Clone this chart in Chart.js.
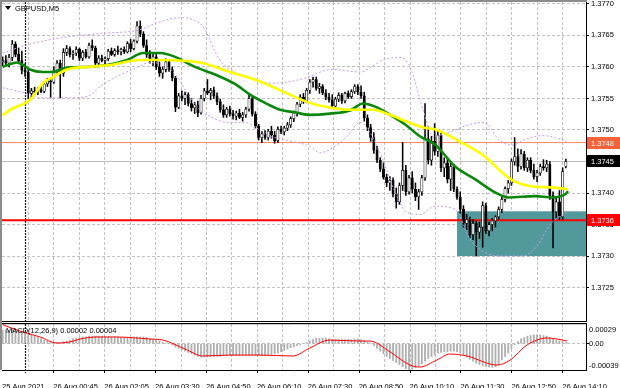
<!DOCTYPE html>
<html>
<head>
<meta charset="utf-8">
<script src="https://cdn.jsdelivr.net/npm/chart.js@4.4.1/dist/chart.umd.min.js"></script>
<style>
  html, body { margin: 0; padding: 0; background: #fff; }
  #wrap { position: relative; width: 620px; height: 388px; overflow: hidden; }
  #main { position: absolute; left: 0; top: 0; }
  #macd { position: absolute; left: 0; top: 322px; }
</style>
</head>
<body>
<div id="wrap">
  <canvas id="main" width="620" height="322"></canvas>
  <canvas id="macd" width="620" height="66"></canvas>
</div>
<script>
/* GBPUSD M5 — candles, MAs, bands, levels + MACD pane */

const symbolLabel = "GBPUSD,M5";
const macdLabel = "MACD(12,26,9) 0.00002 0.00004";

// time grid in bar units; labels sit on every second grid line
const gridBars = [7.88, 15.83, 23.78, 31.74, 39.69, 47.64, 55.59, 63.55, 71.5, 79.45, 87.4, 95.36, 103.31,
  111.26, 119.21, 127.17, 135.12, 143.07, 151.02, 158.98, 166.93, 174.88];
const timeLabelBars = [-0.2, 15.83, 31.74, 47.64, 63.55, 79.45, 95.36, 111.26, 127.17, 143.07, 158.98, 174.88];
const timeLabels = ["25 Aug 2021", "26 Aug 00:45", "26 Aug 02:05", "26 Aug 03:30", "26 Aug 04:50", "26 Aug 06:10",
  "26 Aug 07:30", "26 Aug 08:50", "26 Aug 10:10", "26 Aug 11:30", "26 Aug 12:50", "26 Aug 14:10"];
const separatorBar = 7;

const priceTicks = [1.3725, 1.3730, 1.3735, 1.3740, 1.3745, 1.3750, 1.3755, 1.3760, 1.3765, 1.3770];

const opens = [1.37608,1.37610,1.37606,1.37615,1.37636,1.37620,1.37610,1.37595,1.37592,1.37558,
  1.37562,1.37560,1.37564,1.37561,1.37573,1.37578,1.37576,1.37595,1.37606,1.37590,
  1.37623,1.37629,1.37620,1.37622,1.37628,1.37614,1.37623,1.37616,1.37634,1.37630,
  1.37606,1.37614,1.37610,1.37613,1.37625,1.37620,1.37626,1.37624,1.37628,1.37624,
  1.37637,1.37629,1.37641,1.37665,1.37652,1.37634,1.37620,1.37610,1.37616,1.37600,
  1.37590,1.37596,1.37608,1.37596,1.37582,1.37536,1.37554,1.37550,1.37556,1.37542,
  1.37535,1.37540,1.37527,1.37550,1.37562,1.37559,1.37563,1.37554,1.37545,1.37532,
  1.37524,1.37533,1.37526,1.37522,1.37527,1.37520,1.37524,1.37533,1.37550,1.37525,
  1.37506,1.37488,1.37494,1.37488,1.37498,1.37492,1.37483,1.37501,1.37497,1.37503,
  1.37508,1.37518,1.37527,1.37541,1.37552,1.37546,1.37563,1.37576,1.37580,1.37566,
  1.37569,1.37559,1.37552,1.37548,1.37538,1.37549,1.37555,1.37546,1.37558,1.37553,
  1.37561,1.37569,1.37560,1.37554,1.37519,1.37504,1.37488,1.37468,1.37452,1.37438,
  1.37425,1.37416,1.37420,1.37398,1.37386,1.37412,1.37436,1.37402,1.37424,1.37406,
  1.37394,1.37402,1.37424,1.37486,1.37452,1.37482,1.37466,1.37492,1.37440,1.37448,
  1.37422,1.37442,1.37406,1.37393,1.37374,1.37352,1.37358,1.37334,1.37352,1.37338,
  1.37346,1.37380,1.37340,1.37350,1.37356,1.37362,1.37374,1.37390,1.37407,1.37416,
  1.37450,1.37458,1.37442,1.37462,1.37440,1.37452,1.37436,1.37426,1.37432,1.37442,
  1.37440,1.37446,1.37396,1.37370,1.37386,1.37362,1.37442];
const highs = [1.37616,1.37618,1.37620,1.37642,1.37640,1.37630,1.37625,1.37605,1.37596,1.37566,
  1.37568,1.37567,1.37570,1.37576,1.37582,1.37583,1.37600,1.37610,1.37611,1.37629,
  1.37634,1.37632,1.37626,1.37632,1.37630,1.37626,1.37628,1.37638,1.37643,1.37633,
  1.37618,1.37619,1.37616,1.37628,1.37630,1.37629,1.37633,1.37630,1.37632,1.37640,
  1.37644,1.37643,1.37672,1.37673,1.37656,1.37643,1.37626,1.37620,1.37620,1.37608,
  1.37600,1.37613,1.37610,1.37600,1.37585,1.37558,1.37562,1.37560,1.37559,1.37550,
  1.37544,1.37546,1.37555,1.37566,1.37580,1.37566,1.37568,1.37559,1.37549,1.37540,
  1.37536,1.37538,1.37531,1.37530,1.37533,1.37528,1.37536,1.37555,1.37553,1.37529,
  1.37509,1.37498,1.37499,1.37501,1.37506,1.37498,1.37505,1.37506,1.37506,1.37512,
  1.37521,1.37530,1.37544,1.37556,1.37558,1.37566,1.37580,1.37584,1.37584,1.37574,
  1.37572,1.37564,1.37558,1.37556,1.37552,1.37559,1.37558,1.37560,1.37562,1.37564,
  1.37572,1.37572,1.37570,1.37560,1.37524,1.37509,1.37496,1.37474,1.37456,1.37448,
  1.37430,1.37426,1.37424,1.37408,1.37416,1.37480,1.37444,1.37428,1.37434,1.37416,
  1.37406,1.37428,1.37542,1.37505,1.37490,1.37510,1.37500,1.37496,1.37456,1.37456,
  1.37450,1.37446,1.37410,1.37402,1.37380,1.37366,1.37362,1.37358,1.37356,1.37354,
  1.37386,1.37384,1.37354,1.37360,1.37364,1.37378,1.37394,1.37410,1.37420,1.37454,
  1.37488,1.37470,1.37469,1.37466,1.37456,1.37456,1.37446,1.37436,1.37446,1.37453,
  1.37452,1.37450,1.37402,1.37394,1.37404,1.37440,1.37454];
const lows = [1.37602,1.37603,1.37600,1.37610,1.37616,1.37605,1.37589,1.37585,1.37550,1.37549,
  1.37556,1.37556,1.37559,1.37559,1.37569,1.37551,1.37574,1.37590,1.37551,1.37585,
  1.37618,1.37616,1.37612,1.37618,1.37610,1.37610,1.37614,1.37614,1.37626,1.37602,
  1.37603,1.37608,1.37605,1.37610,1.37618,1.37617,1.37620,1.37619,1.37621,1.37622,
  1.37624,1.37627,1.37638,1.37648,1.37631,1.37615,1.37606,1.37602,1.37596,1.37585,
  1.37582,1.37592,1.37593,1.37578,1.37529,1.37534,1.37546,1.37540,1.37538,1.37530,
  1.37526,1.37521,1.37525,1.37546,1.37556,1.37548,1.37550,1.37540,1.37528,1.37520,
  1.37520,1.37522,1.37517,1.37516,1.37518,1.37514,1.37520,1.37530,1.37522,1.37503,
  1.37484,1.37480,1.37485,1.37484,1.37487,1.37479,1.37480,1.37494,1.37492,1.37499,
  1.37504,1.37513,1.37522,1.37537,1.37542,1.37543,1.37558,1.37568,1.37563,1.37558,
  1.37556,1.37548,1.37544,1.37535,1.37534,1.37545,1.37542,1.37543,1.37550,1.37550,
  1.37558,1.37556,1.37550,1.37514,1.37499,1.37482,1.37463,1.37448,1.37434,1.37422,
  1.37410,1.37404,1.37394,1.37376,1.37382,1.37404,1.37396,1.37398,1.37400,1.37388,
  1.37374,1.37396,1.37420,1.37446,1.37444,1.37460,1.37458,1.37434,1.37426,1.37416,
  1.37404,1.37402,1.37390,1.37368,1.37346,1.37342,1.37329,1.37326,1.37300,1.37328,
  1.37314,1.37336,1.37332,1.37340,1.37346,1.37358,1.37369,1.37386,1.37400,1.37412,
  1.37444,1.37434,1.37438,1.37436,1.37434,1.37432,1.37422,1.37418,1.37428,1.37436,
  1.37434,1.37390,1.37313,1.37360,1.37358,1.37358,1.37440];
const closes = [1.37610,1.37606,1.37615,1.37636,1.37620,1.37610,1.37595,1.37592,1.37558,1.37562,
  1.37560,1.37564,1.37561,1.37573,1.37578,1.37576,1.37595,1.37606,1.37590,1.37623,
  1.37629,1.37620,1.37622,1.37628,1.37614,1.37623,1.37616,1.37634,1.37630,1.37606,
  1.37614,1.37610,1.37613,1.37625,1.37620,1.37626,1.37624,1.37628,1.37624,1.37637,
  1.37629,1.37641,1.37665,1.37652,1.37634,1.37620,1.37610,1.37616,1.37600,1.37590,
  1.37596,1.37608,1.37596,1.37582,1.37536,1.37554,1.37550,1.37556,1.37542,1.37535,
  1.37540,1.37527,1.37550,1.37562,1.37559,1.37563,1.37554,1.37545,1.37532,1.37524,
  1.37533,1.37526,1.37522,1.37527,1.37520,1.37524,1.37533,1.37550,1.37525,1.37506,
  1.37488,1.37494,1.37488,1.37498,1.37492,1.37483,1.37501,1.37497,1.37503,1.37508,
  1.37518,1.37527,1.37541,1.37552,1.37546,1.37563,1.37576,1.37580,1.37566,1.37569,
  1.37559,1.37552,1.37548,1.37538,1.37549,1.37555,1.37546,1.37558,1.37553,1.37561,
  1.37569,1.37560,1.37554,1.37519,1.37504,1.37488,1.37468,1.37452,1.37438,1.37425,
  1.37416,1.37420,1.37398,1.37386,1.37412,1.37436,1.37402,1.37424,1.37406,1.37394,
  1.37402,1.37424,1.37486,1.37452,1.37482,1.37466,1.37492,1.37440,1.37448,1.37422,
  1.37442,1.37406,1.37393,1.37374,1.37352,1.37358,1.37334,1.37352,1.37338,1.37346,
  1.37380,1.37340,1.37350,1.37356,1.37362,1.37374,1.37390,1.37407,1.37416,1.37450,
  1.37458,1.37442,1.37462,1.37440,1.37452,1.37436,1.37426,1.37432,1.37442,1.37440,
  1.37446,1.37396,1.37370,1.37386,1.37364,1.37434,1.37450];

// moving averages (yellow slow, green fast), read at sample bars
const slowMaBars = [0,2.3,8.6,12.7,15.8,20.1,26.4,33.6,42.9,49.2,61.7,71,80.4,89.8,96,103.2,109.5,115.7,121.1,126.4,131.4,135.1,144.5,150.7,156,160.1,166.4,171.7,176.7];
const slowMaValues = [1.37523,1.37532,1.37548,1.37575,1.37584,1.37596,1.37600,1.37603,1.37611,1.37611,1.37607,1.37592,1.37577,1.37556,1.37543,1.37535,1.37532,1.37532,1.37524,1.37513,1.37504,1.37501,1.37477,1.37458,1.37433,1.37418,1.37410,1.37409,1.37406];
const fastMaBars = [0,4.5,6.4,8.5,12.6,15.7,20.1,26.4,32.6,38.9,43.9,49.2,53.9,60.1,66.4,72.6,77.3,82,86.7,91.4,96,102.3,108.6,112.6,116.4,121.1,125.7,130.4,135.1,141.4,147.6,153.9,158,166.4,171.7,175.8,176.7];
const fastMaValues = [1.37600,1.37607,1.37603,1.37596,1.37592,1.37592,1.37599,1.37600,1.37603,1.37611,1.37622,1.37622,1.37616,1.37600,1.37588,1.37573,1.37556,1.37543,1.37532,1.37528,1.37524,1.37526,1.37531,1.37542,1.37537,1.37524,1.37509,1.37490,1.37477,1.37442,1.37422,1.37401,1.37393,1.37395,1.37393,1.37398,1.37403];

// bollinger envelope
const upperBandBars = [0,7.6,17.9,30.4,42.9,48.2,55.4,59.5,62.6,67.9,74.2,78.9,84.2,92.9,103.2,111.7,118.9,124.2,127.3,131.4,134.5,139.8,146.1,150.7,155,159.2,163.3,168.6,172.7,176.7];
const upperBandValues = [1.37622,1.37635,1.37646,1.37653,1.37659,1.37670,1.37678,1.37675,1.37664,1.37611,1.37588,1.37580,1.37574,1.37580,1.37596,1.37592,1.37611,1.37615,1.37600,1.37532,1.37490,1.37497,1.37509,1.37512,1.37485,1.37476,1.37485,1.37491,1.37488,1.37480];
const lowerBandBars = [0,5.4,12.6,20.1,26.4,30.4,35.7,40.7,46.1,50.7,54.5,57.6,61.7,65.4,70.4,75.7,78.9,82,87.6,96,99.2,103.2,107.6,111.7,114.8,117.9,123.2,126.4,130.4,135.1,141.4,146.1,150.7,156,162.3,167,171.1,176.7];
const lowerBandValues = [1.37567,1.37561,1.37551,1.37551,1.37553,1.37569,1.37585,1.37596,1.37607,1.37602,1.37585,1.37559,1.37532,1.37520,1.37512,1.37512,1.37505,1.37493,1.37485,1.37474,1.37464,1.37472,1.37490,1.37512,1.37496,1.37464,1.37395,1.37369,1.37366,1.37379,1.37374,1.37327,1.37306,1.37300,1.37300,1.37316,1.37350,1.37371];

// levels and zone
const bidPrice = 1.3745;
const resistanceLevel = 1.3748;
const supportLevel = 1.37357;
const zoneStartBar = 142;
const zoneTop = 1.37371;
const zoneBottom = 1.37300;

// MACD pane
const macdHist = [0.00020,0.00020,0.00020,0.00021,0.00020,0.00019,0.00018,
  0.00017,0.00015,0.00013,0.00011,0.00009,0.00007,0.00005,0.00004,0.00003,
  0.00002,0.00002,0.00001,0.00003,0.00004,
  0.00005,0.00007,0.00008,0.00009,0.00010,0.00010,0.00011,0.00011,0.00011,0.00011,0.00011,0.00010,0.00010,0.00010,0.00010,0.00010,
  0.00009,0.00009,0.00009,0.00009,0.00010,0.00010,0.00010,0.00010,0.00009,0.00007,0.00006,0.00005,
  0.00004,0.00002,0.00001,0,-0.00002,-0.00005,
  -0.00007,-0.00009,-0.00011,-0.00013,-0.00015,-0.00017,-0.00019,-0.00020,
  -0.00020,-0.00020,-0.00019,-0.00019,-0.00019,-0.00019,-0.00018,-0.00018,-0.00018,-0.00018,-0.00018,-0.00018,-0.00017,-0.00017,
  -0.00017,-0.00017,-0.00017,-0.00018,-0.00018,-0.00018,-0.00017,-0.00016,-0.00015,-0.00014,-0.00012,-0.00010,-0.00008,-0.00006,
  -0.00005,-0.00003,-0.00002,0,0.00002,
  0.00004,0.00006,0.00008,0.00008,0.00008,0.00008,
  0.00007,0.00006,0.00006,0.00006,0.00006,0.00006,0.00006,0.00006,0.00007,0.00007,0.00006,0.00005,0.00002,0,-0.00003,
  -0.00007,-0.00011,-0.00015,-0.00019,-0.00022,-0.00025,-0.00028,-0.00031,-0.00034,-0.00037,-0.00039,
  -0.00038,-0.00036,-0.00033,-0.00030,-0.00026,-0.00022,-0.00019,-0.00017,
  -0.00014,-0.00013,-0.00012,-0.00012,-0.00011,-0.00011,-0.00012,-0.00014,
  -0.00017,-0.00020,-0.00023,-0.00026,-0.00029,-0.00031,-0.00033,-0.00034,-0.00035,-0.00035,-0.00034,-0.00031,
  -0.00024,-0.00019,-0.00014,-0.00008,-0.00002,
  0.00003,0.00007,0.00009,0.00011,0.00012,0.00013,0.00013,0.00013,0.00012,0.00011,0.00009,
  0.00007,0.00005,0.00004,0.00003,0.00002];
const signalBars = [0,5.4,11.7,17,21,24.2,29.5,35.7,46,50.1,57,62.6,71,80.4,90.7,96,102.3,111.7,114.8,121.1,127.3,130.4,135.7,139.8,145.1,154.5,158.6,163.9,170.1,173.3,176.4];
const signalValues = [0.00028,0.000186,0.000098,0.000009,0.000024,0.000068,0.000098,0.000098,0.000068,0.000053,-0.00008,-0.000183,-0.000169,-0.000169,-0.000183,-0.000065,0.000053,0.000038,0.000038,-0.000124,-0.000317,-0.000346,-0.000243,-0.000154,-0.000183,-0.000317,-0.000243,-0.00002,0.000083,0.000068,0.00004];
const macdTicks = [-0.00039, 0, 0.00029];

const X_MIN = -0.2, X_MAX = 182.3;
const GRID = "#c0c0c0";
const FONT = '7.5px "Liberation Sans", Arial, sans-serif';

Chart.defaults.font.family = '"Liberation Sans", Arial, sans-serif';
Chart.defaults.font.size = 7.5;
Chart.defaults.color = "#000";
Chart.defaults.animation = false;

const pts = (xs, ys) => xs.map((x, i) => ({ x, y: ys[i] }));

function noPad(scale) {
  scale.paddingTop = 0; scale.paddingBottom = 0;
  scale.paddingLeft = 0; scale.paddingRight = 0;
}

// vertical time grid + dotted day separator, placed with the x scale
function drawTimeGrid(chart, extra) {
  const { ctx, chartArea: a, scales: { x } } = chart;
  ctx.save();
  ctx.strokeStyle = GRID;
  ctx.lineWidth = 1;
  ctx.setLineDash([3, 2]);
  gridBars.forEach((b) => {
    const gx = Math.round(x.getPixelForValue(b)) + 0.5;
    ctx.beginPath(); ctx.moveTo(gx, a.top); ctx.lineTo(gx, a.bottom); ctx.stroke();
  });
  const sx = Math.round(x.getPixelForValue(separatorBar)) + 0.5;
  ctx.strokeStyle = "#1a1a1a";
  ctx.lineWidth = 1.2;
  ctx.setLineDash([2, 1]);
  ctx.beginPath(); ctx.moveTo(sx, a.top); ctx.lineTo(sx, a.bottom + extra); ctx.stroke();
  ctx.restore();
}

function boxLabel(ctx, area, y, text, fill) {
  ctx.fillStyle = fill;
  ctx.fillRect(area.right + 1, Math.round(y) - 6, 620 - area.right - 1, 12);
  ctx.fillStyle = "#fff";
  ctx.textBaseline = "middle";
  ctx.textAlign = "left";
  ctx.fillText(text, area.right + 5, Math.round(y) + 0.5);
}

const mainDecor = {
  id: "mainDecor",
  beforeDatasetsDraw(chart) {
    const { ctx, chartArea: a, scales: { x, y } } = chart;
    drawTimeGrid(chart, 0);
    ctx.save();
    ctx.beginPath();
    ctx.rect(a.left, a.top, a.right - a.left, a.bottom - a.top);
    ctx.clip();
    const zx = x.getPixelForValue(zoneStartBar);
    const zt = y.getPixelForValue(zoneTop);
    const zb = y.getPixelForValue(zoneBottom);
    ctx.fillStyle = "#52999b";
    ctx.fillRect(zx, zt, a.right - zx, zb - zt);
    const hline = (v, color, w) => {
      const py = y.getPixelForValue(v);
      ctx.strokeStyle = color; ctx.lineWidth = w;
      ctx.beginPath(); ctx.moveTo(a.left, py); ctx.lineTo(a.right, py); ctx.stroke();
    };
    hline(bidPrice, "#c0c0c0", 1);
    hline(resistanceLevel, "#f5845a", 1);
    hline(supportLevel, "#ff0000", 2);
    ctx.restore();
  },
  afterDraw(chart) {
    const { ctx, chartArea: a, scales: { y } } = chart;
    ctx.save();
    ctx.font = FONT;
    boxLabel(ctx, a, y.getPixelForValue(resistanceLevel), resistanceLevel.toFixed(4), "#f4623a");
    boxLabel(ctx, a, y.getPixelForValue(bidPrice), bidPrice.toFixed(4), "#000");
    boxLabel(ctx, a, y.getPixelForValue(supportLevel), supportLevel.toFixed(4), "#ff0000");
    // frame
    ctx.fillStyle = "#8c8c8c";
    ctx.fillRect(0, 0, 2, chart.height);
    ctx.fillRect(0, 0, a.right + 1, 2);
    // header
    ctx.fillStyle = "#000";
    ctx.beginPath(); ctx.moveTo(5, 6); ctx.lineTo(11, 6); ctx.lineTo(8, 10); ctx.closePath(); ctx.fill();
    ctx.textBaseline = "middle";
    ctx.fillText(symbolLabel, 15, 8.5);
    ctx.restore();
  }
};

new Chart(document.getElementById("main"), {
  type: "bar",
  data: {
    datasets: [
      { type: "line", data: pts(slowMaBars, slowMaValues), borderColor: "#ffff00", borderWidth: 2.6,
        pointRadius: 0, cubicInterpolationMode: "monotone", order: 0 },
      { type: "line", data: pts(fastMaBars, fastMaValues), borderColor: "#0b870b", borderWidth: 2.6,
        pointRadius: 0, cubicInterpolationMode: "monotone", order: 0 },
      { type: "line", data: pts(upperBandBars, upperBandValues), borderColor: "#c99be6", borderWidth: 1,
        borderDash: [2, 2], pointRadius: 0, cubicInterpolationMode: "monotone", order: 1 },
      { type: "line", data: pts(lowerBandBars, lowerBandValues), borderColor: "#c99be6", borderWidth: 1,
        borderDash: [2, 2], pointRadius: 0, cubicInterpolationMode: "monotone", order: 1 },
      { data: closes.map((c, i) => ({ x: i, y: [opens[i], c] })),
        backgroundColor: closes.map((c, i) => (c >= opens[i] ? "#ffffff" : "#000000")),
        borderColor: "#000", borderWidth: 0.7, borderSkipped: false, minBarLength: 1,
        barThickness: 2.4, grouped: false, order: 2 },
      { data: closes.map((c, i) => ({ x: i, y: [lows[i], highs[i]] })),
        backgroundColor: "#000", borderWidth: 0, barThickness: 0.9, grouped: false, order: 3 }
    ]
  },
  options: {
    responsive: false, animation: false, events: [],
    layout: { padding: { left: 2, top: 2, right: 0, bottom: 1 } },
    plugins: { legend: { display: false }, tooltip: { enabled: false } },
    scales: {
      x: {
        type: "linear", min: X_MIN, max: X_MAX, offset: false,
        grid: { display: false, offset: false },
        border: { display: true, color: "#000", width: 1 },
        ticks: { display: false },
        afterFit: (s) => { s.height = 0; noPad(s); }
      },
      y: {
        position: "right", min: 1.37197, max: 1.37703, beginAtZero: false,
        grid: { color: GRID, drawTicks: true, tickLength: 3, tickColor: "#000" },
        border: { display: true, color: "#000", width: 1, dash: [3, 2] },
        ticks: { padding: 2, callback: (v) => v.toFixed(4) },
        afterBuildTicks: (s) => { s.ticks = priceTicks.map((v) => ({ value: v })); },
        afterFit: (s) => { s.width = 34; noPad(s); }
      }
    }
  },
  plugins: [mainDecor]
});

const macdDecor = {
  id: "macdDecor",
  beforeDatasetsDraw(chart) {
    drawTimeGrid(chart, 3);
  },
  afterDraw(chart) {
    const { ctx, chartArea: a, scales: { x, y } } = chart;
    ctx.save();
    ctx.fillStyle = "#000";
    ctx.fillRect(2, 1, a.right - 1, 1.2);
    ctx.fillStyle = "#8c8c8c";
    ctx.fillRect(0, 0, 2, a.bottom);
    // time tick marks under the labels
    ctx.fillStyle = "#000";
    timeLabelBars.slice(1).forEach((b) => {
      const tx = Math.round(x.getPixelForValue(b));
      ctx.fillRect(tx, a.bottom, 1, 3);
    });
    ctx.font = FONT;
    ctx.textBaseline = "middle";
    ctx.fillText(macdLabel, 6, a.top + 6.5);
    const labelY = [a.bottom - 4, y.getPixelForValue(0) + 0.5, a.top + 6];
    macdTicks.forEach((v, k) => {
      ctx.fillText(v === 0 ? "0.00" : v.toFixed(5), a.right + 3, labelY[k]);
    });
    ctx.restore();
  }
};

new Chart(document.getElementById("macd"), {
  type: "bar",
  data: {
    datasets: [
      { type: "line", data: pts(signalBars, signalValues), borderColor: "#ff0000", borderWidth: 1,
        pointRadius: 0, cubicInterpolationMode: "monotone", order: 0 },
      { data: macdHist.map((v, i) => ({ x: i, y: v })), backgroundColor: "#b0b0b0",
        barThickness: 1.2, grouped: false, order: 1 }
    ]
  },
  options: {
    responsive: false, animation: false, events: [],
    layout: { padding: { left: 2, top: 2, right: 0, bottom: 0 } },
    plugins: { legend: { display: false }, tooltip: { enabled: false } },
    scales: {
      x: {
        type: "linear", min: X_MIN, max: X_MAX, offset: false,
        grid: { display: false, offset: false },
        border: { display: true, color: "#000", width: 1 },
        ticks: {
          autoSkip: false, maxRotation: 0, align: "start", padding: 4,
          callback: (v) => { const k = timeLabelBars.indexOf(v); return k >= 0 ? timeLabels[k] : ""; }
        },
        afterBuildTicks: (s) => { s.ticks = timeLabelBars.map((v) => ({ value: v })); },
        afterFit: (s) => { s.height = 18; noPad(s); }
      },
      y: {
        position: "right", min: -0.00039, max: 0.00029,
        grid: { color: GRID, drawTicks: true, tickLength: 3, tickColor: "#000" },
        border: { display: true, color: "#000", width: 1, dash: [3, 2] },
        ticks: { display: false },
        afterBuildTicks: (s) => { s.ticks = [0].map((v) => ({ value: v })); },
        afterFit: (s) => { s.width = 34; noPad(s); }
      }
    }
  },
  plugins: [macdDecor]
});
</script>
</body>
</html>
